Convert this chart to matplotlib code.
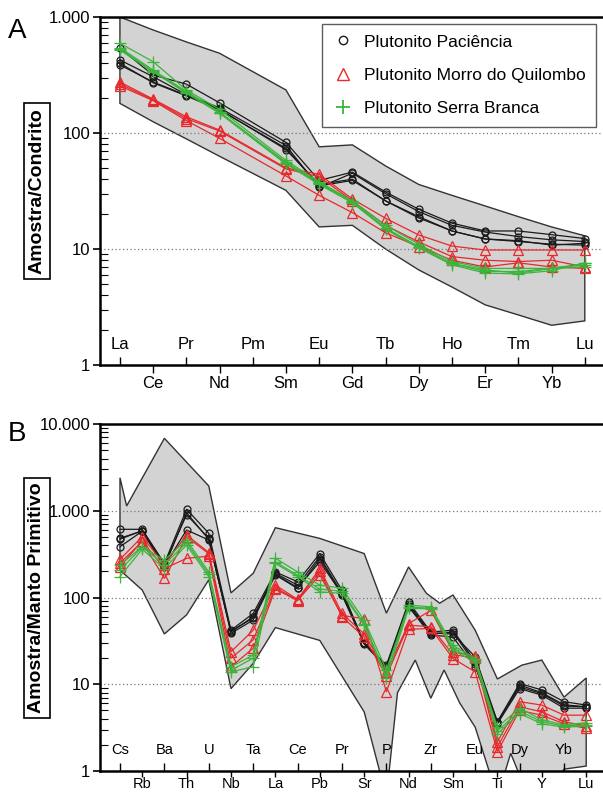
import numpy as np
import matplotlib
matplotlib.use("Agg")
import matplotlib.pyplot as plt
from matplotlib.lines import Line2D

plt.rcParams["font.family"] = ["Liberation Sans", "DejaVu Sans"]

# ---------------- Panel A: REE / chondrite ----------------
ree = ["La", "Ce", "Pr", "Nd", "Pm", "Sm", "Eu", "Gd", "Tb", "Dy", "Ho", "Er", "Tm", "Yb", "Lu"]
nan = np.nan

pac_ree = [
    [537, 316, 264, 182, nan, 83, 39, 46, 31, 22, 16.7, 14.3, 14.3, 13.3, 12.3],
    [426, 306, 214, 165, nan, 78, 34, 45, 30, 21, 16.0, 14.0, 12.8, 12.0, 11.6],
    [399, 271, 209, 158, nan, 74, 35, 39, 26, 19, 14.3, 12.2, 11.6, 11.0, 10.8],
    [386, 275, 212, 160, nan, 72, 36, 40, 26, 18.5, 14.3, 12.2, 11.8, 10.8, 11.2],
]
mq_ree = [
    [275, 196, 138, 106, nan, 50, 44, 27, 18.4, 13.2, 10.6, 9.8, 9.8, 9.8, 9.8],
    [265, 193, 133, 104, nan, 49, 42, 26, 16.0, 11.5, 8.6, 8.0, 7.8, 8.0, 7.0],
    [255, 190, 128, 90, nan, 42.6, 29, 20.6, 13.8, 10.5, 8.0, 7.0, 7.6, 7.0, 6.8],
]
sb_ree = [
    [593, 412, 235, 160, nan, 58, 38, 26, 16.0, 11.0, 7.8, 6.8, 6.8, 6.8, 7.5],
    [545, 349, 228, 152, nan, 55, 37, 25.5, 15.0, 10.5, 7.5, 6.4, 6.4, 6.8, 7.3],
    [530, 340, 220, 148, nan, 54, 36, 25, 14.8, 10.2, 7.3, 6.2, 6.1, 6.5, 7.6],
    [520, 335, 225, 150, nan, 56, 37, 25.6, 15.2, 10.4, 7.5, 6.6, 6.2, 6.8, 7.0],
]
env_a_upper = [1000, 773, 610, 487, nan, 235, 76, 79, 52, 36, 29, 23.5, 19, 15.5, 13]
env_a_lower = [180, 125, 89, 63, nan, 32, 15.5, 16, 10, 6.6, 4.7, 3.3, 2.7, 2.2, 2.4]

# ---------------- Panel B: spider / primitive mantle ----------------
spider = ["Cs", "Rb", "Ba", "Th", "U", "Nb", "Ta", "La", "Ce", "Pb", "Pr",
          "Sr", "P", "Nd", "Zr", "Sm", "Eu", "Ti", "Dy", "Y", "Yb", "Lu"]

pac_pm = [
    [611, 611, 247, 1040, 550, 42, 65.5, 197, 152, 321, 121, 30, 16.6, 89, 40, 42, 18.1, 3.7, 10.2, 8.6, 6.3, 5.75],
    [482, 584, 226, 948, 468, 40, 60, 190, 139, 295, 112, 29.5, 16.0, 85, 38, 40, 17.0, 3.6, 9.8, 8.0, 5.8, 5.5],
    [470, 590, 240, 900, 480, 38.6, 55, 182, 127, 280, 107, 29, 15.5, 78, 37, 35, 15.9, 3.5, 8.9, 7.5, 5.3, 5.3],
    [385, 580, 230, 600, 460, 41, 58, 185, 130, 257, 110, 30, 16.0, 80, 39, 38, 20.7, 3.7, 9.3, 7.8, 5.6, 5.5],
]
mq_pm = [
    [275, 501, 240, 525, 330, 23.7, 42, 139, 95, 216, 65.5, 38, 13.9, 50, 71, 23.7, 21, 2.17, 6.3, 5.75, 4.4, 4.4],
    [250, 440, 166, 500, 320, 20, 32.5, 130, 93, 200, 60, 35, 12.5, 48, 46, 22, 20, 1.9, 5.5, 4.8, 3.7, 3.3],
    [226, 450, 215, 283, 300, 15.9, 26, 125, 92, 182, 62, 57, 8.2, 43, 44, 19.8, 13.9, 1.67, 5.0, 4.4, 3.5, 3.1],
]
sb_pm = [
    [237, 385, 270, 460, 197, 15.9, 21.7, 283, 197, 139, 128, 55, 14.6, 82, 78, 28, 19.8, 3.2, 5.3, 3.9, 3.4, 3.6],
    [207, 380, 240, 430, 185, 14.5, 20, 257, 180, 125, 118, 50, 12.7, 78, 75, 26, 19, 2.9, 4.9, 3.7, 3.3, 3.4],
    [174, 360, 215, 403, 174, 13.9, 15.9, 247, 174, 116, 112, 48, 11.8, 75, 74, 24.6, 18, 2.7, 4.6, 3.5, 3.2, 3.3],
]
env_b_upper_x = [0, 0.3, 2, 4, 5, 6, 7, 9, 11, 12, 13, 13.8, 14.4, 15, 16, 17, 18.1, 19, 20, 21]
env_b_upper_y = [2400, 1135, 6840, 1930, 113, 190, 638, 480, 321, 66, 225, 112, 86, 107, 42, 11.5, 16.6, 19, 7.1, 11.8]
env_b_lower_x = [0, 1, 2, 3, 4, 5, 6, 7, 9, 11, 12, 12.5, 13.3, 14, 14.6, 15.3, 16, 17, 17.6, 18.4, 19.5, 20, 21]
env_b_lower_y = [207, 122, 38, 63, 160, 8.9, 17.4, 45, 32, 4.8, 0.5, 8, 19, 6.9, 14.6, 6.1, 3.2, 0.5, 1.6, 0.5, 0.6, 1.05, 1.14]

black = "#1a1a1a"
red = "#e8282b"
green = "#3cb43c"
fill_gray = "#d3d3d3"

fig = plt.figure(figsize=(6.03, 7.93), dpi=100)
W, H = 603.0, 793.0


def make_axes(left, top, right, bottom):
    return fig.add_axes([left / W, 1 - bottom / H, (right - left) / W, (bottom - top) / H])


def draw_series(ax, samples, color, marker, ms):
    for s in samples:
        y = np.array(s, dtype=float)
        x = np.arange(len(y))
        ok = np.isfinite(y)
        ax.plot(x[ok], y[ok], color=color, lw=0.9, marker=marker, ms=ms,
                mfc="none", mec=color, mew=0.9, zorder=3)


def style_axes(ax, names, ylim, yticks, yticklabels, xsize, tlen, tpad):
    ax.set_yscale("log")
    ax.set_ylim(*ylim)
    ax.set_yticks(yticks)
    ax.set_yticklabels(yticklabels, fontsize=12)
    for t in yticks[1:-1]:
        ax.axhline(t, color="#777777", lw=0.9, ls=(0, (1, 2)), zorder=1)
    even = list(range(0, len(names), 2))
    odd = list(range(1, len(names), 2))
    ax.set_xticks(even)
    ax.set_xticklabels([names[i] for i in even], fontsize=xsize)
    ax.set_xticks(odd, minor=True)
    ax.set_xticklabels([names[i] for i in odd], minor=True, fontsize=xsize)
    ax.tick_params(axis="x", which="major", direction="in", length=6, width=1, pad=-20)
    ax.tick_params(axis="x", which="minor", direction="out", length=tlen, width=1, pad=tpad)
    ax.tick_params(axis="y", which="major", direction="out", length=5, width=1.2, pad=2)
    ax.tick_params(axis="y", which="minor", direction="in", length=6, width=0.8, labelleft=False)
    for sp in ax.spines.values():
        sp.set_linewidth(1.8)


# Panel A
axA = make_axes(100, 17, 612, 365)
ux = np.arange(len(ree))
up = np.array(env_a_upper, dtype=float)
lo = np.array(env_a_lower, dtype=float)
ok = np.isfinite(up)
px = np.concatenate([ux[ok], ux[ok][::-1]])
py = np.concatenate([up[ok], lo[ok][::-1]])
axA.fill(px, py, facecolor=fill_gray, edgecolor="#333333", lw=1.0, zorder=0)
draw_series(axA, pac_ree, black, "o", 5)
draw_series(axA, mq_ree, red, "^", 6.5)
draw_series(axA, sb_ree, green, "+", 8)
axA.set_xlim(-0.6, (612 - 120) / 33.2)
style_axes(axA, ree, (1, 1000), [1, 10, 100, 1000], ["1", "10", "100", "1.000"], 12, 6, 2)

handles = [
    Line2D([], [], ls="none", marker="o", ms=6, mfc="none", mec=black, mew=1),
    Line2D([], [], ls="none", marker="^", ms=8, mfc="none", mec=red, mew=1),
    Line2D([], [], ls="none", marker="+", ms=10, mec=green, mew=1.3),
]
leg = axA.legend(handles, ["Plutonito Paciência", "Plutonito Morro do Quilombo", "Plutonito Serra Branca"],
                 loc="upper left", bbox_to_anchor=(322 / W, 1 - 24 / H), bbox_transform=fig.transFigure,
                 fontsize=12.5, frameon=True, fancybox=False, borderaxespad=0, labelspacing=1.05,
                 handletextpad=0.6, handlelength=1.2, borderpad=0.6)
leg.get_frame().set_edgecolor("#333333")
leg.get_frame().set_linewidth(1.0)

# Panel B
axB = make_axes(100, 424, 612, 771)
bx_up = np.array(env_b_upper_x)
bx_lo = np.array(env_b_lower_x)
px = np.concatenate([bx_up, bx_lo[::-1]])
py = np.concatenate([env_b_upper_y, env_b_lower_y[::-1]])
axB.fill(px, py, facecolor=fill_gray, edgecolor="#333333", lw=1.0, zorder=0)
draw_series(axB, pac_pm, black, "o", 5)
draw_series(axB, mq_pm, red, "^", 6.5)
draw_series(axB, sb_pm, green, "+", 8)
axB.set_xlim(-0.9, (612 - 120) / 22.2)
style_axes(axB, spider, (1, 10000), [1, 10, 100, 1000, 10000], ["1", "10", "100", "1.000", "10.000"],
           10.5, 4, 0.5)

# panel letters and boxed y labels
fig.text(8 / W, 1 - 31 / H, "A", fontsize=20, va="center", ha="left")
fig.text(8 / W, 1 - 434 / H, "B", fontsize=20, va="center", ha="left")
box = dict(boxstyle="square,pad=0.25", facecolor="white", edgecolor="black", lw=1.2)
fig.text(37 / W, 1 - 191 / H, "Amostra/Condrito", rotation=90, fontsize=14,
         fontweight="bold", ha="center", va="center", bbox=box)
fig.text(37 / W, 1 - 598 / H, "Amostra/Manto Primitivo", rotation=90, fontsize=14,
         fontweight="bold", ha="center", va="center", bbox=box)

plt.savefig("out.png", dpi=100)
